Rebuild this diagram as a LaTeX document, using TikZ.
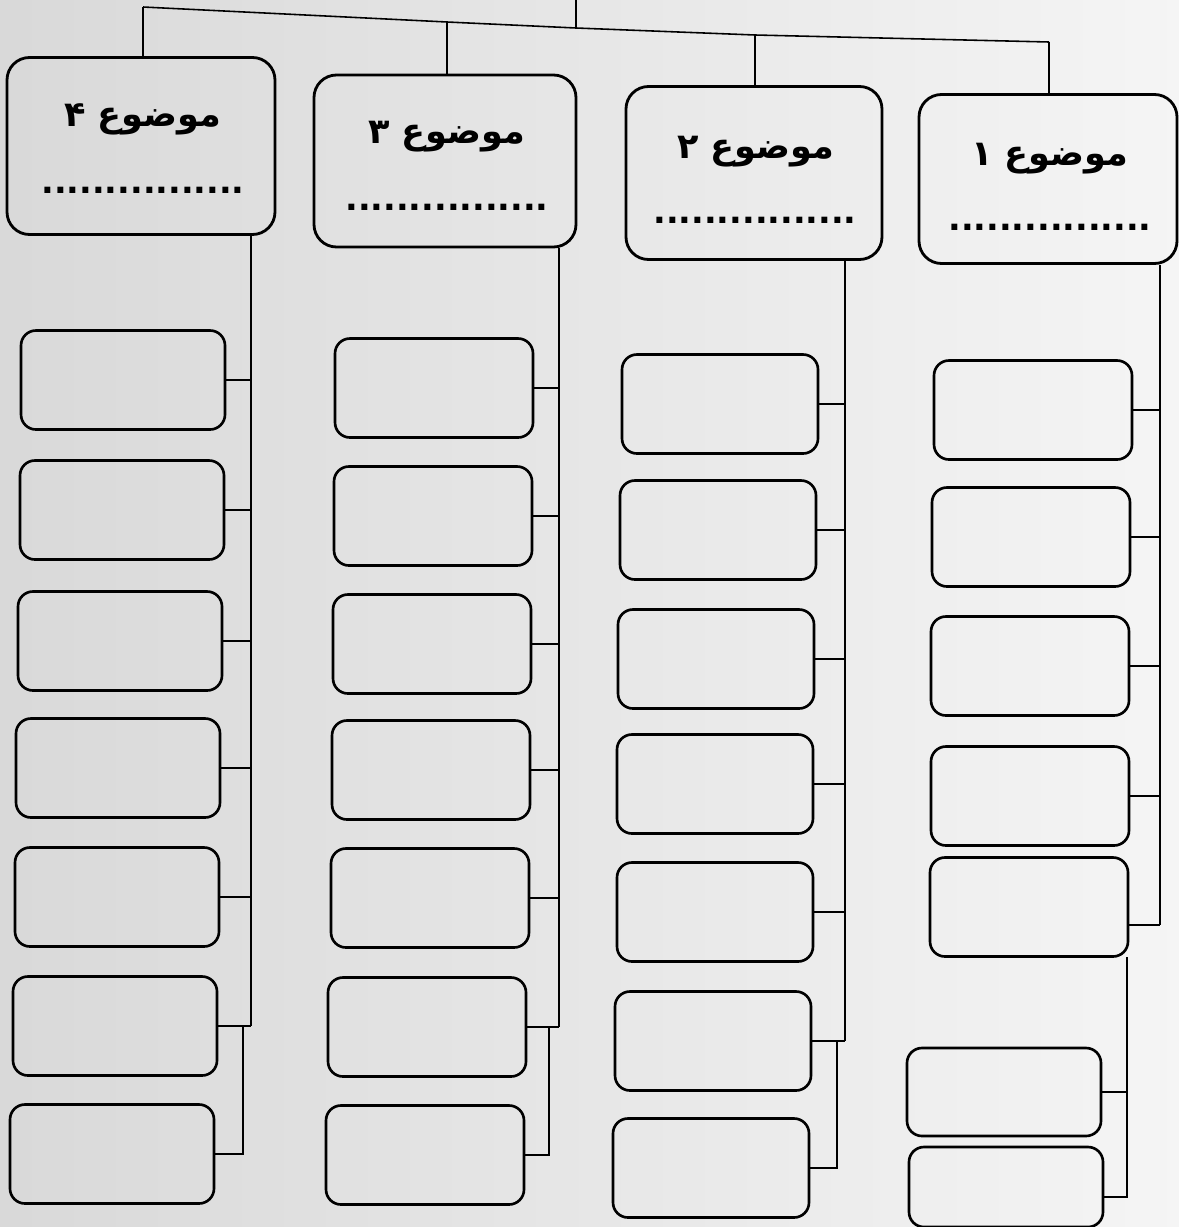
\documentclass[tikz,border=0pt]{standalone}
\usepackage{fontspec}
\usepackage{tikz}
\usetikzlibrary{calc}
\newfontfamily\arabicfont[Script=Arabic]{DejaVu Sans}
\TeXXeTstate=1

\tikzset{
  kopf/.style 2 args={draw,line width=1.6pt,rounded corners=0.45cm,
    minimum width=#1*0.02cm,minimum height=#2*0.02cm,inner sep=0pt},
  feld/.style 2 args={draw,line width=1.5pt,rounded corners=0.3cm,
    minimum width=#1*0.02cm,minimum height=#2*0.02cm,inner sep=0pt},
  verb/.style={line width=0.9pt},
  titel/.style={font=\arabicfont\bfseries\fontsize{20}{24}\selectfont,inner sep=0pt},
  punkte/.style={font=\arabicfont\bfseries\fontsize{19}{20}\selectfont,inner sep=0pt}
}

\begin{document}
\begin{tikzpicture}[x=0.02cm,y=-0.02cm]
  \useasboundingbox (0,0) rectangle (1179,1227);
  % Hintergrund (Scan)
  \shade[left color=black!15,right color=black!4] (0,0) rectangle (1179,1227);

  % Kopfkaesten
  \node[kopf={268}{177}] (h4) at (141,146) {};
  \node[kopf={262}{172}] (h3) at (445,161) {};
  \node[kopf={256}{173}] (h2) at (754,173) {};
  \node[kopf={258}{169}] (h1) at (1048,179) {};

  \node[titel] (t4) at (143,119) {\beginR موضوع ۴\endR};
  \node[titel] (t3) at (447,137) {\beginR موضوع ۳\endR};
  \node[titel] (t2) at (756,152) {\beginR موضوع ۲\endR};
  \node[titel] (t1) at (1050,159) {\beginR موضوع ۱\endR};

  \node[punkte] (p4) at (143,190) {................};
  \node[punkte] (p3) at (447,207) {................};
  \node[punkte] (p2) at (755,220) {................};
  \node[punkte] (p1) at (1050,227) {................};

  % Verzweigung oben
  \coordinate (wurzel) at (576,0);
  \coordinate (br4) at (143,7);
  \coordinate (br3) at (447,22);
  \coordinate (br0) at (576,28);
  \coordinate (br2) at (755,35);
  \coordinate (br1) at (1049,42);
  \draw[verb] (wurzel) -- (br0);
  \draw[verb] (br4) -- (br3) -- (br0) -- (br2) -- (br1);
  \foreach \k in {1,...,4} {
    \draw[verb] (br\k) -- (br\k |- h\k.north);
  }

  % Spalte 4
  \foreach \xx/\yy [count=\i] in {123/380,122/510,120/641,118/768,117/897,115/1026,112/1154} {
    \node[feld={204}{99}] (s4b\i) at (\xx,\yy) {};
  }
  \coordinate (v4o) at (251,0);
  \coordinate (v4u) at (243,0);
  \draw[verb] (v4o |- h4.south) -- (v4o |- s4b6.east);
  \foreach \i in {1,...,6} {
    \draw[verb] (s4b\i.east) -- (s4b\i.east -| v4o);
  }
  \draw[verb] (s4b7.east) -- (s4b7.east -| v4u) -- (v4u |- s4b6.east);

  % Spalte 3
  \foreach \xx/\yy [count=\i] in {434/388,433/516,432/644,431/770,430/898,427/1027,425/1155} {
    \node[feld={198}{99}] (s3b\i) at (\xx,\yy) {};
  }
  \coordinate (v3o) at (559,0);
  \coordinate (v3u) at (549,0);
  \draw[verb] (v3o |- h3.south) -- (v3o |- s3b6.east);
  \foreach \i in {1,...,6} {
    \draw[verb] (s3b\i.east) -- (s3b\i.east -| v3o);
  }
  \draw[verb] (s3b7.east) -- (s3b7.east -| v3u) -- (v3u |- s3b6.east);

  % Spalte 2
  \foreach \xx/\yy [count=\i] in {720/404,718/530,716/659,715/784,715/912,713/1041,711/1168} {
    \node[feld={196}{99}] (s2b\i) at (\xx,\yy) {};
  }
  \coordinate (v2o) at (845,0);
  \coordinate (v2u) at (837,0);
  \draw[verb] (v2o |- h2.south) -- (v2o |- s2b6.east);
  \foreach \i in {1,...,6} {
    \draw[verb] (s2b\i.east) -- (s2b\i.east -| v2o);
  }
  \draw[verb] (s2b7.east) -- (s2b7.east -| v2u) -- (v2u |- s2b6.east);

  % Spalte 1
  \foreach \xx/\yy [count=\i] in {1033/410,1031/537,1030/666,1030/796,1029/907} {
    \node[feld={198}{99}] (s1b\i) at (\xx,\yy) {};
  }
  \node[feld={194}{88}] (s1b6) at (1004,1092) {};
  \node[feld={194}{80}] (s1b7) at (1006,1187) {};
  \coordinate (v1o) at (1160,0);
  \coordinate (v1u) at (1127,957);
  \coordinate (a5) at ([yshift=-0.36cm]s1b5.east);
  \coordinate (a7) at ([yshift=-0.2cm]s1b7.east);
  \draw[verb] (v1o |- h1.south) -- (v1o |- a5);
  \foreach \i in {1,...,4} {
    \draw[verb] (s1b\i.east) -- (s1b\i.east -| v1o);
  }
  \draw[verb] (a5) -- (a5 -| v1o);
  \draw[verb] (v1u) -- (v1u |- a7) -- (a7);
  \draw[verb] (s1b6.east) -- (s1b6.east -| v1u);
\end{tikzpicture}
\end{document}
